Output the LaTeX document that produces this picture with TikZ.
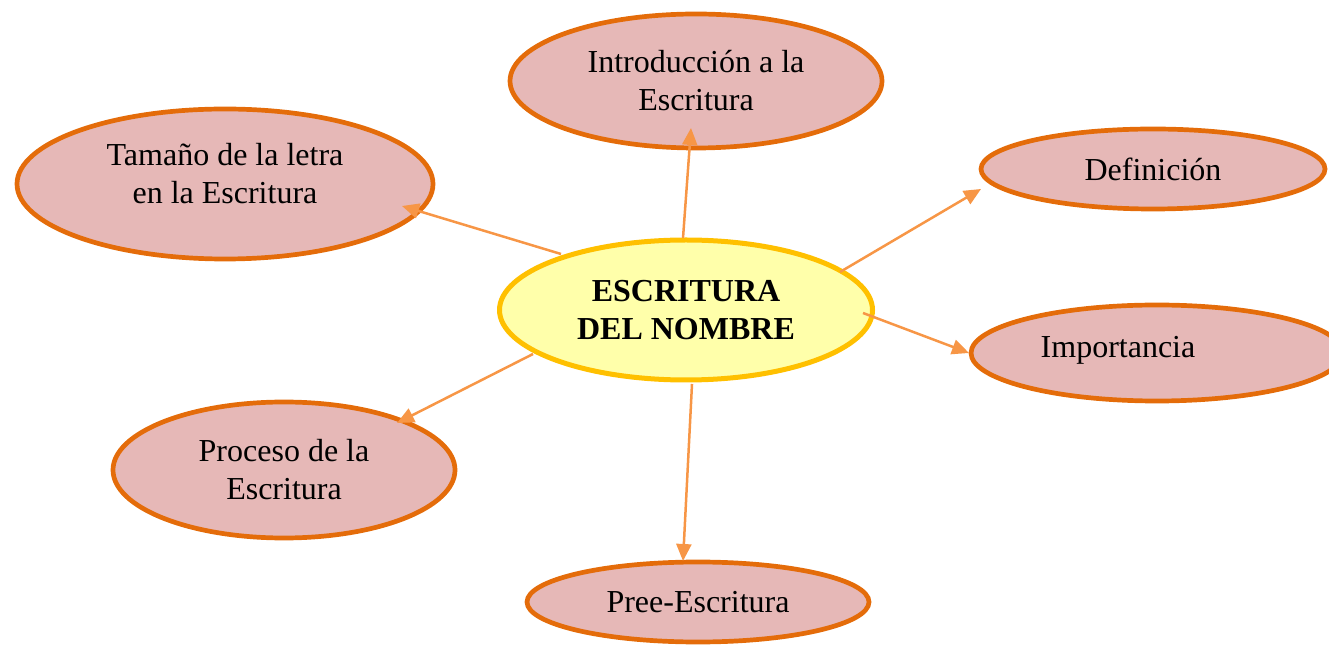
\documentclass[tikz,border=0pt]{standalone}
\usepackage{fontspec}
\setmainfont{Liberation Serif}
\usetikzlibrary{shapes.geometric,arrows.meta}
\definecolor{bord}{HTML}{E46C0A}
\definecolor{pinkf}{HTML}{E6B8B7}
\definecolor{arrc}{HTML}{F79646}
\definecolor{yelf}{HTML}{FFFFAA}
\definecolor{yelb}{HTML}{FFC000}
\tikzset{
  topic/.style={ellipse, draw=bord, fill=pinkf, line width=4.7pt, inner sep=0pt,
    align=center, font=\fontsize{32}{38}\selectfont},
  hub/.style={ellipse, draw=yelb, fill=yelf, line width=5pt, inner sep=0pt,
    align=center, font=\fontsize{32}{38}\selectfont\bfseries},
  link/.style={draw=arrc, line width=2.5pt, -{Triangle[length=17pt,width=15pt]}}
}
\begin{document}
\begin{tikzpicture}[x=1pt,y=1pt]
\useasboundingbox (0,0) rectangle (1329,645);
\clip (0,0) rectangle (1329,645);
\node[hub, minimum width=373pt, minimum height=140pt] (c) at (686,335) {ESCRITURA\\DEL NOMBRE};
\node[topic, minimum width=372pt, minimum height=134pt] (intro) at (696,564) {Introducción a la\\Escritura};
\node[topic, minimum width=416pt, minimum height=150pt, text depth=21pt] (tam) at (225,461) {Tamaño de la letra\\en la Escritura};
\node[topic, minimum width=344pt, minimum height=80pt] (def) at (1153,476) {Definición};
\node[topic, minimum width=372pt, minimum height=96pt, text depth=12pt] (imp) at (1157,292) {Importancia\hspace*{78pt}};
\node[topic, minimum width=342pt, minimum height=136pt] (proc) at (284,175) {Proceso de la\\Escritura};
\node[topic, minimum width=342pt, minimum height=80pt] (pree) at (698,43) {Pree-Escritura};

\draw[link] ([shift={(-125,56)}]c.center) -- ([shift={(177,-22)}]tam.center);
\draw[link] ([shift={(-3,72)}]c.center) -- ([shift={(-5,-47)}]intro.center);
\draw[link] ([shift={(154,38)}]c.center) -- ([shift={(-172,-20)}]def.center);
\draw[link] ([shift={(177,-3)}]c.center) -- ([shift={(-188,0)}]imp.center);
\draw[link] ([shift={(-153,-44)}]c.center) -- ([shift={(113,47)}]proc.center);
\draw[link] ([shift={(6,-74)}]c.center) -- ([shift={(-15,41)}]pree.center);
\end{tikzpicture}
\end{document}
